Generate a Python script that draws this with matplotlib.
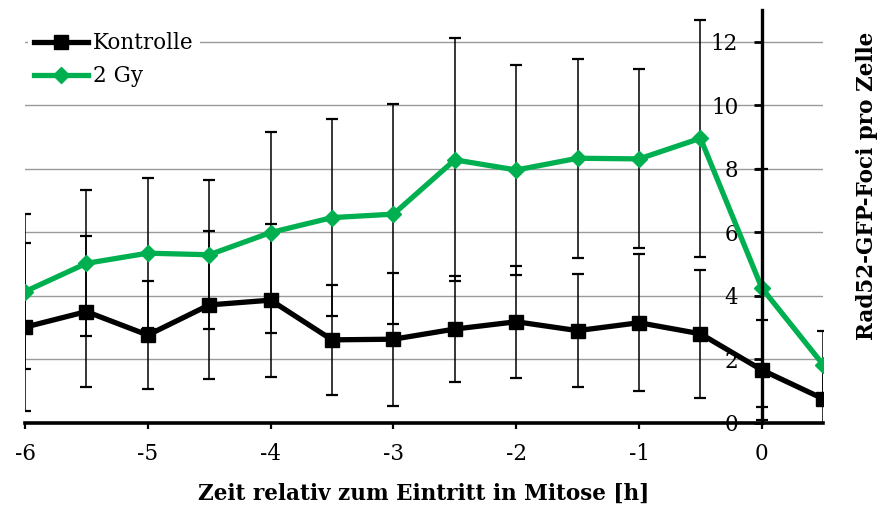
import matplotlib
matplotlib.use("Agg")
import matplotlib.pyplot as plt

plt.rcParams['font.family'] = ['DejaVu Serif']
plt.rcParams['axes.unicode_minus'] = False

x = [-6, -5.5, -5, -4.5, -4, -3.5, -3, -2.5, -2, -1.5, -1, -0.5, 0, 0.5]
kontrolle = [3.01, 3.50, 2.76, 3.71, 3.86, 2.61, 2.63, 2.95, 3.18, 2.90, 3.15, 2.80, 1.66, 0.75]
kontrolle_err = [2.64, 2.38, 1.71, 2.34, 2.41, 1.74, 2.10, 1.67, 1.77, 1.79, 2.16, 2.01, 1.58, 1.00]
gy2 = [4.13, 5.02, 5.34, 5.29, 5.99, 6.46, 6.57, 8.28, 7.96, 8.33, 8.31, 8.96, 4.24, 1.82]
gy2_err = [2.45, 2.30, 2.36, 2.35, 3.16, 3.11, 3.47, 3.83, 3.31, 3.13, 2.82, 3.73, 3.75, 1.07]
xticks = [-6, -5, -4, -3, -2, -1, 0]
xticklabels = ['-6', '-5', '-4', '-3', '-2', '-1', '0']
yticks = [0, 2, 4, 6, 8, 10, 12]
yticklabels = ['0', '2', '4', '6', '8', '10', '12']

green = '#00B050'
fs = 15.5

fig = plt.figure(figsize=(8.81, 5.09), dpi=100)
ax = fig.add_axes([25/881, 1-422.7/509, (823.3-25)/881, (422.7-10)/509])

ax.set_xlim(-6, 0.5)
ax.set_ylim(0, 13)

for yt in yticks[1:]:
    ax.axhline(yt, color='#9a9a9a', lw=1.0, zorder=1)

ax.errorbar(x, kontrolle, yerr=kontrolle_err, fmt='none', ecolor='black',
            elinewidth=1.1, capsize=4.4, capthick=1.6, zorder=2)
ax.errorbar(x, gy2, yerr=gy2_err, fmt='none', ecolor='black',
            elinewidth=1.1, capsize=4.4, capthick=1.6, zorder=2)

l1, = ax.plot(x, kontrolle, color='black', lw=3.8, marker='s', markersize=9.5,
              label='Kontrolle', zorder=4)
l2, = ax.plot(x, gy2, color=green, lw=3.8, marker='D', markersize=8.5,
              label='2 Gy', zorder=3)

ax.spines['top'].set_visible(False)
ax.spines['right'].set_visible(False)
ax.spines['left'].set_position(('data', 0))
ax.spines['left'].set_linewidth(2.4)
ax.spines['bottom'].set_linewidth(2.6)
ax.spines['left'].set_zorder(5)
ax.spines['bottom'].set_zorder(5)

ax.set_xticks(xticks)
ax.set_xticklabels(xticklabels)
ax.set_yticks(yticks)
ax.set_yticklabels(yticklabels)
ax.tick_params(axis='x', direction='out', length=4.5, width=1.6, pad=10, labelsize=fs)
ax.tick_params(axis='y', direction='out', length=6, width=2.0, pad=11, labelsize=fs)

fig.text(424/881, 1-494/509, 'Zeit relativ zum Eintritt in Mitose [h]',
         ha='center', va='center', fontsize=fs, fontweight='bold')
fig.text(867/881, 1-186/509, 'Rad52-GFP-Foci pro Zelle', rotation=90,
         ha='center', va='center', fontsize=fs, fontweight='bold')

leg = fig.legend(handles=[l1, l2], loc='upper left', bbox_to_anchor=(28/881, 1-26/509),
                 frameon=True, fontsize=fs, handlelength=2.5, handletextpad=0.2,
                 labelspacing=0.5, borderpad=0.3, borderaxespad=0, fancybox=False)
leg.get_frame().set_edgecolor('none')
leg.get_frame().set_facecolor('white')
leg.get_frame().set_alpha(1)

fig.savefig('out.png', dpi=100)
